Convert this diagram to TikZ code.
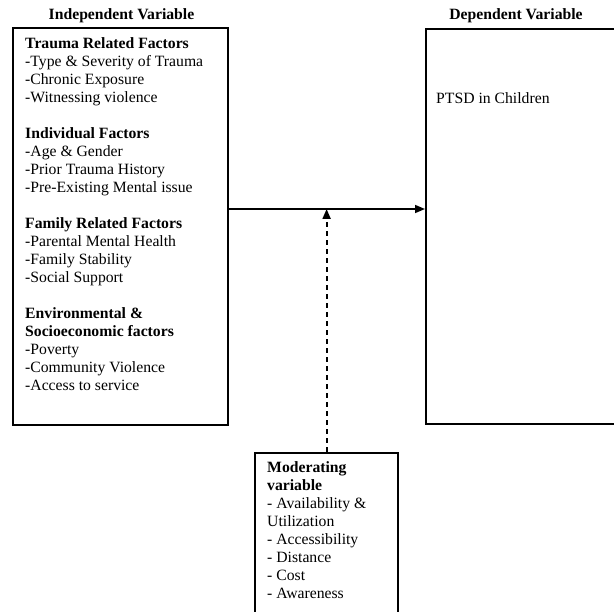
\documentclass[tikz,border=0pt]{standalone}
\usepackage{fontspec}
\setmainfont{Liberation Serif}
\usetikzlibrary{positioning,calc,arrows.meta}

\tikzset{
    varbox/.style={draw, line width=2.2pt, inner sep=0pt, anchor=north west},
    boxtext/.style={anchor=north west, align=left, inner sep=0pt,
        font=\fontsize{15.7pt}{18pt}\selectfont},
    heading/.style={anchor=base, inner sep=0pt,
        font=\fontsize{15.7pt}{18pt}\selectfont\bfseries},
    arr/.style={line width=1.5pt, -{Triangle[length=10pt,width=8pt]}}
}

\begin{document}
\begin{tikzpicture}[x=1pt, y=-1pt]
    \clip (0,0) rectangle (614,612);
    \fill[white] (0,0) rectangle (614,612);

    % Headings
    \node[heading] (indephead) at (121.5,20) {Independent Variable};
    \node[heading] (dephead) at (516,20) {Dependent Variable};

    % Independent variable
    \node[varbox, minimum width=215pt, minimum height=397pt] (indep) at (12,27) {};
    \node[boxtext] (indeptext) at (25,37) {%
        \textbf{Trauma Related Factors}\\
        -Type \& Severity of Trauma\\
        -Chronic Exposure\\
        -Witnessing violence\\[18pt]
        \textbf{Individual Factors}\\
        -Age \& Gender\\
        -Prior Trauma History\\
        -Pre-Existing Mental issue\\[18pt]
        \textbf{Family Related Factors}\\
        -Parental Mental Health\\
        -Family Stability\\
        -Social Support\\[18pt]
        \textbf{Environmental \&}\\
        \textbf{Socioeconomic factors}\\
        -Poverty\\
        -Community Violence\\
        -Access to service};

    % Dependent variable
    \node[varbox, minimum width=215pt, minimum height=395pt] (dep) at (425,28) {};
    \node[boxtext] (deptext) at (436,92.5) {PTSD in Children};

    % Moderating variable
    \node[varbox, minimum width=143pt, minimum height=175pt] (moder) at (254,452) {};
    \node[boxtext] (modertext) at (267,461) {%
        \textbf{Moderating}\\
        \textbf{variable}\\
        - Availability \&\\
        Utilization\\
        - Accessibility\\
        - Distance\\
        - Cost\\
        - Awareness};

    % Connectors
    \coordinate (junction) at (moder.north |- 0,209);
    \draw[arr] (indep.east |- junction) -- (dep.west |- junction);
    \draw[arr, line width=2pt, dash pattern=on 5pt off 4pt] (moder.north) -- (junction);
\end{tikzpicture}
\end{document}
